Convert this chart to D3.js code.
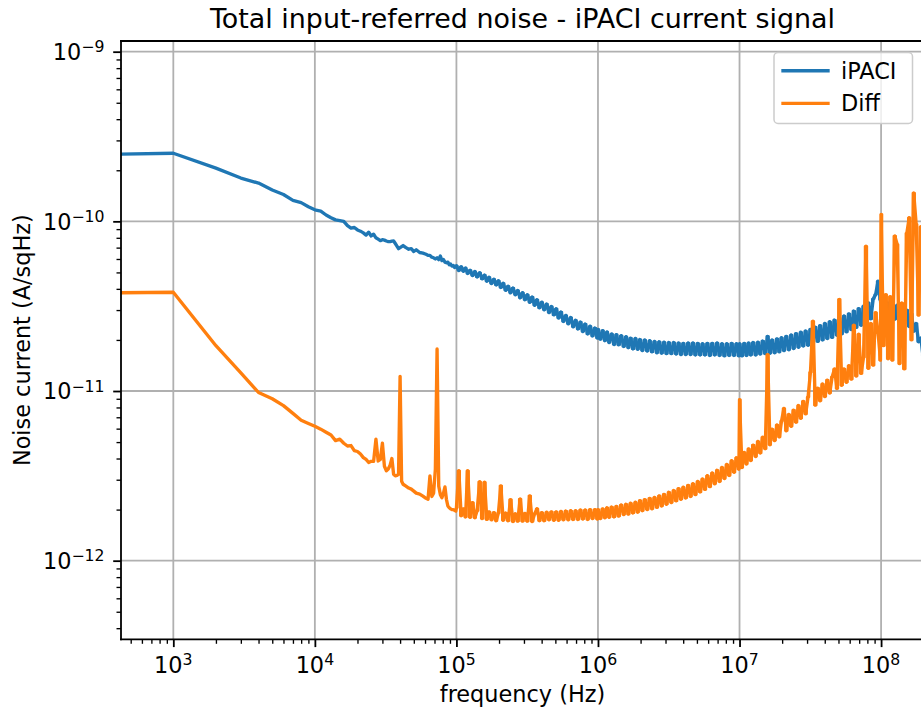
<!DOCTYPE html>
<html><head><meta charset="utf-8">
<script src="https://cdn.jsdelivr.net/npm/d3@7"></script>
<style>body{margin:0;background:#fff}svg text{font-family:"DejaVu Sans",sans-serif;fill:#000}</style>
</head><body><svg id="chart" width="921" height="717"></svg>
<script>
// ---------- data ----------
const chartTitle = "Total input-referred noise - iPACI current signal";
const xLabel = "frequency (Hz)";
const yLabel = "Noise current (A/sqHz)";
const seriesNames = ["iPACI", "Diff"];
const seriesColors = ["#1f77b4", "#ff7f0e"];
const xMajor = [1e3, 1e4, 1e5, 1e6, 1e7, 1e8];
const xTickExp = ["3", "4", "5", "6", "7", "8"];
const yMajor = [1e-12, 1e-11, 1e-10, 1e-9];
const yTickExp = ["\u221212", "\u221211", "\u221210", "\u22129"];

const freq = [
400,1000,2000,3000,4000,5000,6000,7000,8000,9000,10000,
11000,12000,13000,14000,15000,16000,17000,18000,19000,20000,
21000,22000,23000,24000,25000,26000,27000,28000,29000,30000,
31000,32000,33000,34000,35000,36000,37000,38000,39000,40000,41000,
42000,44000,46000,48000,50000,52000,55000,58000,
61000,63000,65000,67000,69000,71000,73000,75000,77000,79000,
81000,83000,85000,87000,89000,91000,93000,95000,97000,99000,
1.00e5,1.04e5,1.08e5,1.12e5,1.16e5,1.20e5,1.25e5,1.30e5,1.35e5,1.40e5,
1.46e5,1.52e5,1.58e5,1.64e5,1.70e5,1.77e5,1.84e5,1.91e5,1.98e5,2.06e5,
2.14e5,2.23e5,2.32e5,2.41e5,2.51e5,2.61e5,2.71e5,2.82e5,2.93e5,3.05e5,
3.17e5,3.30e5,3.43e5,3.57e5,3.71e5,3.86e5,4.01e5,4.17e5,4.34e5,4.51e5,
4.69e5,4.88e5,5.07e5,5.27e5,5.48e5,5.70e5,5.93e5,6.17e5,6.42e5,6.68e5,
6.95e5,7.23e5,7.52e5,7.82e5,8.13e5,8.46e5,8.80e5,9.15e5,9.52e5,9.90e5,
1.00e6,1.04e6,1.08e6,1.12e6,1.16e6,1.20e6,1.25e6,1.30e6,1.35e6,1.40e6,
1.46e6,1.52e6,1.58e6,1.64e6,1.70e6,1.77e6,1.84e6,1.91e6,1.98e6,2.06e6,
2.14e6,2.23e6,2.32e6,2.41e6,2.51e6,2.61e6,2.71e6,2.82e6,2.93e6,3.05e6,
3.17e6,3.30e6,3.43e6,3.57e6,3.71e6,3.86e6,4.01e6,4.17e6,4.34e6,4.51e6,
4.69e6,4.88e6,5.07e6,5.27e6,5.48e6,5.70e6,5.93e6,6.17e6,6.42e6,6.68e6,
6.95e6,7.23e6,7.52e6,7.82e6,8.13e6,8.46e6,8.80e6,9.15e6,9.52e6,9.90e6,
1.00e7,1.04e7,1.08e7,1.12e7,1.16e7,1.20e7,1.25e7,1.30e7,1.35e7,1.40e7,
1.46e7,1.52e7,1.58e7,1.64e7,1.70e7,1.77e7,1.84e7,1.91e7,1.98e7,2.06e7,
2.14e7,2.23e7,2.32e7,2.41e7,2.51e7,2.61e7,2.71e7,2.82e7,2.93e7,3.05e7,
3.17e7,3.30e7,3.43e7,3.57e7,3.71e7,3.86e7,4.01e7,4.17e7,4.34e7,4.51e7,
4.69e7,4.88e7,5.07e7,5.27e7,5.48e7,5.70e7,5.93e7,6.17e7,6.42e7,6.68e7,
6.95e7,7.23e7,7.52e7,7.82e7,8.13e7,8.46e7,8.80e7,9.15e7,9.52e7,9.90e7,
1.00e8,1.04e8,1.08e8,1.12e8,1.16e8,1.20e8,1.25e8,1.30e8,1.35e8,1.40e8,
1.46e8,1.52e8,1.58e8,1.64e8,1.70e8,1.77e8,1.84e8,1.91e8,1.98e8,2.06e8
];

const ipaci = [
2.49e-10,2.52e-10,2.06e-10,1.80e-10,1.68e-10,1.53e-10,1.44e-10,1.33e-10,1.29e-10,1.22e-10,1.17e-10,
1.15e-10,1.09e-10,1.05e-10,1.02e-10,1.01e-10,1.00e-10,9.44e-11,9.13e-11,9.20e-11,8.90e-11,
8.75e-11,8.55e-11,8.30e-11,8.63e-11,8.20e-11,8.40e-11,8.00e-11,7.85e-11,7.70e-11,7.80e-11,
7.75e-11,7.66e-11,7.60e-11,7.60e-11,7.65e-11,7.66e-11,7.40e-11,7.15e-11,6.90e-11,7.00e-11,7.10e-11,
7.20e-11,7.00e-11,6.85e-11,6.90e-11,6.64e-11,6.80e-11,6.55e-11,6.50e-11,
6.40e-11,6.30e-11,6.30e-11,6.15e-11,6.10e-11,6.00e-11,6.10e-11,5.95e-11,6.25e-11,5.87e-11,
5.95e-11,5.75e-11,5.70e-11,5.75e-11,5.55e-11,5.60e-11,5.45e-11,5.50e-11,5.35e-11,5.40e-11,
5.48e-11,5.13e-11,5.40e-11,5.08e-11,5.31e-11,4.93e-11,5.15e-11,4.79e-11,5.06e-11,4.70e-11,
4.98e-11,4.58e-11,4.82e-11,4.44e-11,4.68e-11,4.30e-11,4.56e-11,4.22e-11,4.47e-11,4.08e-11,
4.32e-11,3.92e-11,4.15e-11,3.79e-11,4.05e-11,3.69e-11,3.91e-11,3.54e-11,3.80e-11,3.45e-11,
3.69e-11,3.33e-11,3.58e-11,3.20e-11,3.45e-11,3.09e-11,3.34e-11,3.01e-11,3.26e-11,2.90e-11,
3.15e-11,2.81e-11,3.05e-11,2.69e-11,2.92e-11,2.57e-11,2.79e-11,2.49e-11,2.71e-11,2.39e-11,
2.61e-11,2.32e-11,2.55e-11,2.24e-11,2.48e-11,2.17e-11,2.41e-11,2.11e-11,2.35e-11,2.05e-11,
2.31e-11,2.02e-11,2.27e-11,1.98e-11,2.23e-11,1.93e-11,2.17e-11,1.88e-11,2.15e-11,1.87e-11,
2.12e-11,1.83e-11,2.09e-11,1.80e-11,2.05e-11,1.77e-11,2.04e-11,1.76e-11,2.01e-11,1.73e-11,
2.00e-11,1.72e-11,1.98e-11,1.70e-11,1.96e-11,1.68e-11,1.95e-11,1.67e-11,1.94e-11,1.66e-11,
1.93e-11,1.66e-11,1.93e-11,1.65e-11,1.92e-11,1.64e-11,1.91e-11,1.64e-11,1.92e-11,1.64e-11,
1.92e-11,1.63e-11,1.91e-11,1.63e-11,1.90e-11,1.63e-11,1.91e-11,1.62e-11,1.91e-11,1.63e-11,
1.92e-11,1.62e-11,1.90e-11,1.61e-11,1.90e-11,1.62e-11,1.91e-11,1.62e-11,1.90e-11,1.61e-11,
1.90e-11,1.61e-11,1.91e-11,1.62e-11,1.92e-11,1.63e-11,1.93e-11,1.63e-11,1.94e-11,1.65e-11,
1.97e-11,1.66e-11,2.10e-11,1.67e-11,2.00e-11,1.68e-11,2.03e-11,1.70e-11,2.06e-11,1.73e-11,
2.10e-11,1.75e-11,2.14e-11,1.78e-11,2.18e-11,1.81e-11,2.22e-11,1.84e-11,2.26e-11,1.86e-11,
2.31e-11,1.91e-11,2.38e-11,1.96e-11,2.43e-11,2.00e-11,2.50e-11,2.04e-11,2.56e-11,2.07e-11,
2.62e-11,2.13e-11,2.69e-11,2.17e-11,2.77e-11,2.23e-11,2.85e-11,2.30e-11,2.96e-11,2.37e-11,
3.06e-11,2.44e-11,3.16e-11,2.53e-11,3.31e-11,2.66e-11,3.49e-11,3.70e-11,4.44e-11,3.45e-11,
3.00e-11,3.35e-11,2.80e-11,3.30e-11,2.75e-11,3.25e-11,2.65e-11,3.20e-11,2.60e-11,3.10e-11,
2.50e-11,3.00e-11,2.40e-11,2.85e-11,2.25e-11,2.50e-11,1.95e-11,2.05e-11,1.60e-11,1.70e-11
];

const diff = [
3.79e-11,3.82e-11,1.85e-11,1.28e-11,9.80e-12,9.00e-12,8.20e-12,7.38e-12,6.73e-12,6.44e-12,6.20e-12,
5.96e-12,5.72e-12,5.50e-12,5.10e-12,5.20e-12,4.92e-12,4.74e-12,4.77e-12,4.45e-12,4.40e-12,
4.25e-12,4.05e-12,3.95e-12,3.79e-12,3.85e-12,3.85e-12,5.20e-12,3.87e-12,3.95e-12,4.92e-12,
3.60e-12,3.39e-12,3.47e-12,3.65e-12,4.00e-12,3.23e-12,3.16e-12,3.18e-12,3.23e-12,1.22e-11,2.94e-12,
2.82e-12,2.75e-12,2.68e-12,2.64e-12,2.57e-12,2.50e-12,2.47e-12,2.40e-12,
2.33e-12,2.30e-12,3.16e-12,2.39e-12,2.50e-12,3.47e-12,1.77e-11,2.75e-12,2.45e-12,2.35e-12,
2.50e-12,2.72e-12,2.30e-12,2.10e-12,2.05e-12,2.02e-12,2.00e-12,2.00e-12,1.98e-12,1.96e-12,
2.05e-12,3.39e-12,1.84e-12,2.02e-12,1.81e-12,3.39e-12,1.80e-12,2.20e-12,1.79e-12,1.97e-12,
2.92e-12,1.77e-12,2.90e-12,1.75e-12,1.94e-12,1.74e-12,1.92e-12,1.72e-12,1.91e-12,2.76e-12,
1.73e-12,1.91e-12,1.72e-12,2.29e-12,1.70e-12,1.89e-12,1.71e-12,2.31e-12,1.71e-12,1.90e-12,
1.71e-12,2.41e-12,1.70e-12,1.89e-12,2.02e-12,1.72e-12,1.92e-12,1.72e-12,1.93e-12,1.74e-12,
1.94e-12,1.73e-12,1.94e-12,1.73e-12,1.95e-12,1.74e-12,1.96e-12,1.74e-12,1.97e-12,1.75e-12,
1.97e-12,1.75e-12,1.99e-12,1.76e-12,1.99e-12,1.75e-12,2.00e-12,1.77e-12,2.00e-12,1.76e-12,
2.00e-12,1.77e-12,2.02e-12,1.79e-12,2.05e-12,1.80e-12,2.07e-12,1.81e-12,2.09e-12,1.83e-12,
2.13e-12,1.87e-12,2.15e-12,1.88e-12,2.18e-12,1.91e-12,2.21e-12,1.93e-12,2.26e-12,1.97e-12,
2.29e-12,2.00e-12,2.33e-12,2.02e-12,2.36e-12,2.06e-12,2.41e-12,2.10e-12,2.46e-12,2.15e-12,
2.53e-12,2.20e-12,2.59e-12,2.25e-12,2.66e-12,2.30e-12,2.71e-12,2.34e-12,2.78e-12,2.39e-12,
2.84e-12,2.45e-12,2.93e-12,2.54e-12,3.03e-12,2.63e-12,3.17e-12,2.73e-12,3.29e-12,2.84e-12,
3.41e-12,2.93e-12,3.54e-12,3.05e-12,3.69e-12,3.18e-12,3.88e-12,3.32e-12,4.04e-12,3.46e-12,
8.90e-12,3.54e-12,4.34e-12,3.71e-12,4.56e-12,3.89e-12,4.80e-12,4.11e-12,5.04e-12,4.31e-12,
5.34e-12,4.57e-12,1.64e-11,4.82e-12,5.96e-12,5.10e-12,6.31e-12,5.36e-12,6.66e-12,7.90e-12,
5.83e-12,7.27e-12,6.19e-12,7.72e-12,6.55e-12,8.21e-12,6.90e-12,8.69e-12,7.33e-12,9.23e-12,
1.29e-11,2.58e-11,8.25e-12,1.04e-11,8.75e-12,1.10e-11,9.27e-12,1.16e-11,9.72e-12,1.21e-11,
1.35e-11,1.035e-11,3.47e-11,1.08e-11,1.35e-11,1.125e-11,1.41e-11,1.175e-11,2.44e-11,1.225e-11,
2.16e-11,1.27e-11,1.58e-11,7.13e-11,1.36e-11,2.50e-11,1.42e-11,2.90e-11,2.20e-11,1.52e-11,
1.10e-10,1.85e-11,3.70e-11,1.55e-11,3.60e-11,1.52e-11,8.20e-11,7.30e-11,1.45e-11,3.30e-11,
1.35e-11,8.50e-11,1.05e-10,2.00e-11,1.47e-10,9.60e-11,2.80e-11,9.30e-11,3.00e-11,6.00e-11
];
const series = [ipaci, diff];
// the sweep is sparse below 100 kHz and very dense (noisy) above it
const denseFrom = 1e5;

// ---------- layout ----------
const L = 121, R = 924, T = 41, B = 639.3;
const FS = 22.4, FS_T = 26.9, FS_SUP = 15.7;
const svg = d3.select("#chart");
svg.append("rect").attr("width", 921).attr("height", 717).attr("fill", "#fff");

const x = d3.scaleLog().domain([427, 2.01e8]).range([L, R]);
const y = d3.scaleLog().domain([3.44e-13, 1.156e-9]).range([B, T]);
const isMajor = d => Math.abs(Math.log10(d) - Math.round(Math.log10(d))) < 1e-6;

// grid
const grid = svg.append("g").attr("stroke", "#b0b0b0").attr("stroke-width", 1.8);
grid.selectAll(".gx").data(xMajor).join("line").attr("class", "gx")
  .attr("x1", d => x(d)).attr("x2", d => x(d)).attr("y1", T).attr("y2", B);
grid.selectAll(".gy").data(yMajor).join("line").attr("class", "gy")
  .attr("x1", L).attr("x2", R).attr("y1", d => y(d)).attr("y2", d => y(d));

// lines
svg.append("clipPath").attr("id", "plotclip").append("rect")
  .attr("x", L).attr("y", T).attr("width", R - L).attr("height", B - T);
const trace = d3.line().x(d => x(d[0])).y(d => y(d[1]));
// dense part: a thin step trace under the main trace fills the noise band like the overdrawn sweep
const fillTrace = d3.line().x(d => x(d[0])).y(d => y(d[1])).curve(d3.curveStep);
const plot = svg.append("g").attr("clip-path", "url(#plotclip)");
series.forEach((vals, s) => {
  const pts = vals.map((v, i) => [freq[i], v]);
  const k = freq.indexOf(denseFrom);
  const g = plot.append("g").attr("fill", "none").attr("stroke", seriesColors[s])
    .attr("stroke-linejoin", "round").attr("stroke-linecap", "butt");
  g.append("path").attr("d", fillTrace(pts.slice(k))).attr("stroke-width", 2);
  g.append("path").attr("d", trace(pts)).attr("stroke-width", 3.35);
});

// axes (ticks)
function styleAxis(g, w) {
  g.select(".domain").remove();
  g.selectAll("line").attr("stroke", "#000").attr("stroke-width", w);
}
const xMinor = x.ticks().filter(d => !isMajor(d));
const yMinor = y.ticks().filter(d => !isMajor(d));
svg.append("g").attr("transform", `translate(0,${B})`)
  .call(d3.axisBottom(x).tickValues(xMajor).tickSize(7.8).tickSizeOuter(0).tickFormat(""))
  .call(g => styleAxis(g, 1.8));
svg.append("g").attr("transform", `translate(0,${B})`)
  .call(d3.axisBottom(x).tickValues(xMinor).tickSize(4.5).tickSizeOuter(0).tickFormat(""))
  .call(g => styleAxis(g, 1.35));
svg.append("g").attr("transform", `translate(${L},0)`)
  .call(d3.axisLeft(y).tickValues(yMajor).tickSize(7.8).tickSizeOuter(0).tickFormat(""))
  .call(g => styleAxis(g, 1.8));
svg.append("g").attr("transform", `translate(${L},0)`)
  .call(d3.axisLeft(y).tickValues(yMinor).tickSize(4.5).tickSizeOuter(0).tickFormat(""))
  .call(g => styleAxis(g, 1.35));

// spines
const sp = svg.append("g").attr("stroke", "#000").attr("stroke-width", 1.8).attr("stroke-linecap", "square");
sp.append("line").attr("x1", L).attr("x2", L).attr("y1", T).attr("y2", B);
sp.append("line").attr("x1", L).attr("x2", R).attr("y1", B).attr("y2", B);
sp.append("line").attr("x1", L).attr("x2", R).attr("y1", T).attr("y2", T);
sp.append("line").attr("x1", R).attr("x2", R).attr("y1", T).attr("y2", B);

// tick labels
const xl = svg.append("g").attr("font-size", FS).attr("text-anchor", "middle");
xMajor.forEach((v, i) => {
  const t = xl.append("text").attr("x", x(v)).attr("y", B + 34);
  t.append("tspan").text("10");
  t.append("tspan").attr("dy", -8).attr("font-size", FS_SUP).text(xTickExp[i]);
});
const yl = svg.append("g").attr("font-size", FS).attr("text-anchor", "end");
yMajor.forEach((v, i) => {
  const t = yl.append("text").attr("x", 104.5).attr("y", y(v) + 8.3);
  t.append("tspan").text("10");
  t.append("tspan").attr("dy", -7.8).attr("font-size", FS_SUP).text(yTickExp[i]);
});

// axis labels and title
svg.append("text").attr("x", (L + R) / 2).attr("y", 702).attr("text-anchor", "middle")
  .attr("font-size", FS).text(xLabel);
svg.append("text").attr("transform", `translate(29.5,${(T + B) / 2}) rotate(-90)`)
  .attr("text-anchor", "middle").attr("font-size", FS).text(yLabel);
svg.append("text").attr("x", (L + R) / 2).attr("y", 27.6).attr("text-anchor", "middle")
  .attr("font-size", FS_T).text(chartTitle);

// legend
const lg = svg.append("g");
lg.append("rect").attr("x", 774).attr("y", 52.5).attr("width", 138.5).attr("height", 71)
  .attr("rx", 4).attr("fill", "#fff").attr("fill-opacity", 0.8)
  .attr("stroke", "#cccccc").attr("stroke-width", 1.5);
seriesNames.forEach((name, i) => {
  const cy = 70.7 + i * 32.6;
  lg.append("line").attr("x1", 783).attr("x2", 828).attr("y1", cy).attr("y2", cy)
    .attr("stroke", seriesColors[i]).attr("stroke-width", 3.35).attr("stroke-linecap", "square");
  lg.append("text").attr("x", 841).attr("y", cy + 7.9).attr("font-size", FS).text(name);
});
</script>
</body></html>
